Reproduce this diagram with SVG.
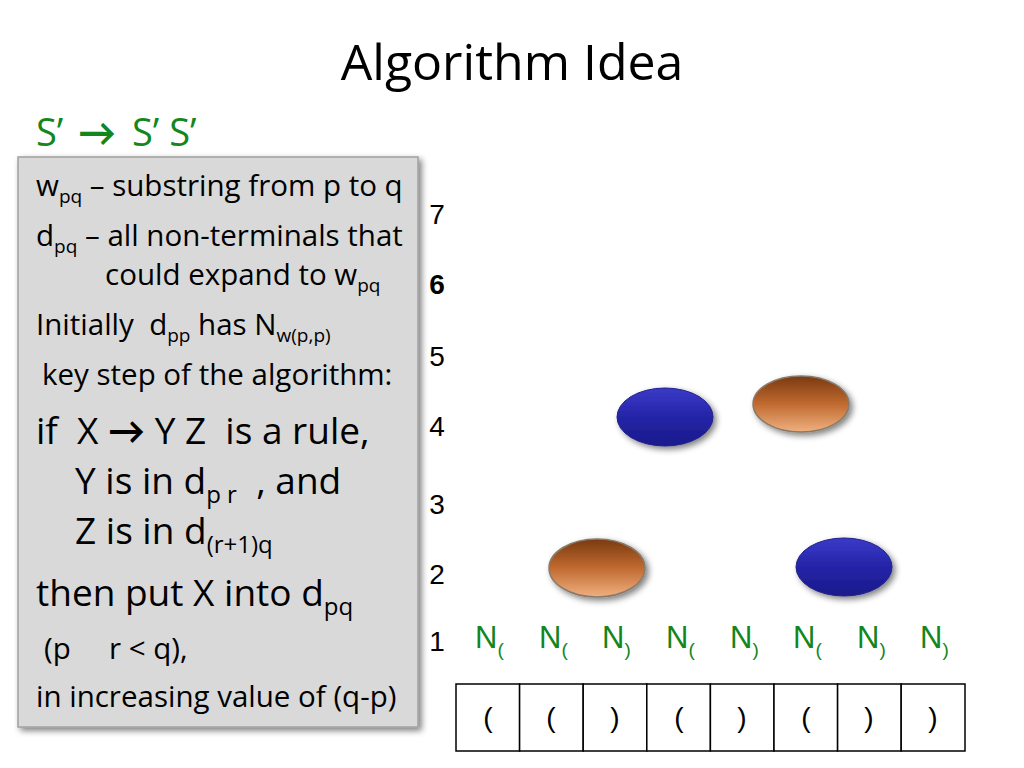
<svg xmlns="http://www.w3.org/2000/svg" width="1024" height="768" viewBox="0 0 1024 768" xml:space="preserve">
<style>
text{white-space:pre}
.t{font-family:"Open Sans",Lato,sans-serif;fill:#000}
.s{font-size:29.5px}
.l{font-size:37px}
.num{font-family:"Liberation Sans",Arial,sans-serif;font-size:28px;fill:#000;text-anchor:middle}
.g{font-family:"Liberation Sans",Arial,sans-serif;font-size:31px;fill:#13861d}
.cell{fill:#fff;stroke:#000;stroke-width:1.5}
.par{font-family:"Liberation Sans",Arial,sans-serif;font-size:28px;fill:#000;text-anchor:middle}
.gr{font-family:"Open Sans",Lato,sans-serif;font-size:38px;fill:#13861d}
</style>
<defs>
<filter id="sh" x="-10%" y="-10%" width="130%" height="130%">
<feGaussianBlur in="SourceAlpha" stdDeviation="3"/>
<feOffset dx="3" dy="3" result="o"/>
<feComponentTransfer><feFuncA type="linear" slope="0.5"/></feComponentTransfer>
<feMerge><feMergeNode/><feMergeNode in="SourceGraphic"/></feMerge>
</filter>
<linearGradient id="blue" x1="0" y1="0" x2="0" y2="1">
<stop offset="0" stop-color="#3a3ac8"/>
<stop offset="0.5" stop-color="#2424a8"/>
<stop offset="1" stop-color="#1a1a8a"/>
</linearGradient>
<linearGradient id="brown" x1="0" y1="0" x2="0" y2="1">
<stop offset="0" stop-color="#7a3a10"/>
<stop offset="0.5" stop-color="#c06a30"/>
<stop offset="1" stop-color="#f0b080"/>
</linearGradient>
</defs>
<rect width="1024" height="768" fill="#fff"/>
<text x="512" y="80" text-anchor="middle" style="font-family:'Open Sans',Lato,sans-serif;font-size:50px">Algorithm Idea</text>
<text class="gr" x="36" y="146">S’</text>
<text class="gr" x="78" y="146" font-weight="bold">→</text>
<text class="gr" x="132" y="146">S’ S’</text>
<g id="box">
<rect x="18" y="157" width="400" height="570" fill="#d9d9d9" stroke="#a0a0a0" stroke-width="1.5" filter="url(#sh)"/>
<text class="t s" x="36" y="196">w<tspan font-size="19" dy="7">pq</tspan><tspan dy="-7"> – substring from p to q</tspan></text>
<text class="t s" x="36" y="246">d<tspan font-size="19" dy="7">pq</tspan><tspan dy="-7"> – all non-terminals that</tspan></text>
<text class="t s" x="105" y="285">could expand to w<tspan font-size="19" dy="7">pq</tspan></text>
<text class="t s" x="36" y="335">Initially  d<tspan font-size="19" dy="7">pp</tspan><tspan dy="-7"> has N</tspan><tspan font-size="19" dy="7">w(p,p)</tspan></text>
<text class="t s" x="42" y="385">key step of the algorithm:</text>
<text class="t l" x="36" y="444">if  X <tspan font-weight="bold">→</tspan> Y Z  is a rule,</text>
<text class="t l" x="75" y="494">Y is in d<tspan font-size="24" dy="9">p r</tspan><tspan dy="-9">  , and</tspan></text>
<text class="t l" x="75" y="544">Z is in d<tspan font-size="24" dy="9">(r+1)q</tspan></text>
<text class="t l" x="36" y="606">then put X into d<tspan font-size="24" dy="9">pq</tspan></text>
<text class="t s" x="44" y="659">(p     r &lt; q),</text>
<text class="t s" x="36" y="707">in increasing value of (q-p)</text>
</g>
<g id="levels">
<text class="num" x="437" y="224">7</text>
<text class="num" x="437" y="294" font-weight="bold">6</text>
<text class="num" x="437" y="366">5</text>
<text class="num" x="437" y="436">4</text>
<text class="num" x="437" y="514">3</text>
<text class="num" x="437" y="584">2</text>
<text class="num" x="437" y="651">1</text>
</g>
<g id="nterms">
<text class="g" x="475" y="648">N<tspan font-size="19" dy="8">(</tspan></text>
<text class="g" x="539" y="648">N<tspan font-size="19" dy="8">(</tspan></text>
<text class="g" x="602" y="648">N<tspan font-size="19" dy="8">)</tspan></text>
<text class="g" x="666" y="648">N<tspan font-size="19" dy="8">(</tspan></text>
<text class="g" x="730" y="648">N<tspan font-size="19" dy="8">)</tspan></text>
<text class="g" x="793" y="648">N<tspan font-size="19" dy="8">(</tspan></text>
<text class="g" x="857" y="648">N<tspan font-size="19" dy="8">)</tspan></text>
<text class="g" x="920" y="648">N<tspan font-size="19" dy="8">)</tspan></text>
</g>
<g id="tape">
<rect class="cell" x="456" y="684" width="63.6" height="67"/>
<rect class="cell" x="519.6" y="684" width="63.6" height="67"/>
<rect class="cell" x="583.2" y="684" width="63.6" height="67"/>
<rect class="cell" x="646.8" y="684" width="63.6" height="67"/>
<rect class="cell" x="710.4" y="684" width="63.6" height="67"/>
<rect class="cell" x="774" y="684" width="63.6" height="67"/>
<rect class="cell" x="837.6" y="684" width="63.6" height="67"/>
<rect class="cell" x="901.2" y="684" width="63.8" height="67"/>
<text class="par" x="488" y="727">(</text>
<text class="par" x="551" y="727">(</text>
<text class="par" x="615" y="727">)</text>
<text class="par" x="679" y="727">(</text>
<text class="par" x="742" y="727">)</text>
<text class="par" x="806" y="727">(</text>
<text class="par" x="869" y="727">)</text>
<text class="par" x="933" y="727">)</text>
</g>
<g id="cells" filter="url(#sh)">
<ellipse id="blue1" cx="665" cy="417" rx="48" ry="29" fill="url(#blue)" stroke="#20208a" stroke-width="1"/>
<ellipse id="brown1" cx="801" cy="404" rx="48" ry="28" fill="url(#brown)" stroke="#8a7a6a" stroke-width="1.5"/>
<ellipse id="brown2" cx="597" cy="568" rx="48" ry="29" fill="url(#brown)" stroke="#8a7a6a" stroke-width="1.5"/>
<ellipse id="blue2" cx="844" cy="567" rx="48" ry="29" fill="url(#blue)" stroke="#20208a" stroke-width="1"/>
</g>
</svg>
